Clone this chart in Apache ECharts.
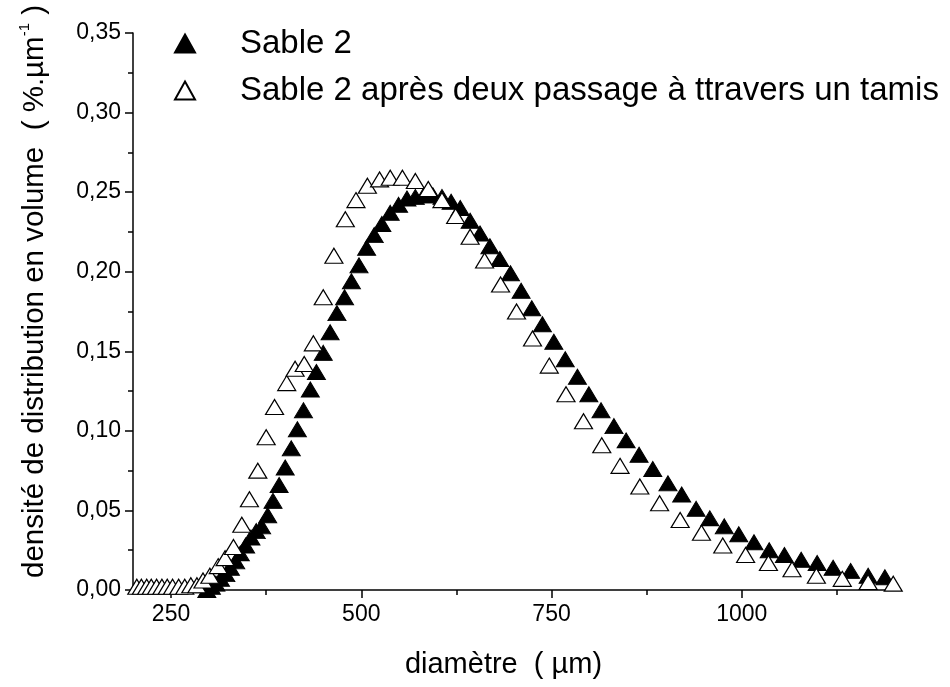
<!DOCTYPE html>
<html>
<head>
<meta charset="utf-8">
<script src="https://cdn.jsdelivr.net/npm/echarts@6/dist/echarts.min.js"></script>
<style>
  html, body { margin: 0; padding: 0; background: #fff; }
  #chart { width: 950px; height: 687px; }
</style>
</head>
<body>
<div id="chart"></div>
<script>
// Sable 2 (triangles pleins)
const sableX = [297, 303, 309, 315, 322, 328, 335, 341, 348, 355, 362, 369, 377, 384, 392, 400, 408, 416, 424, 433,
  441, 450, 459, 468, 478, 487, 497, 507, 517, 527, 538, 549, 560, 571, 582, 594, 606, 618, 630, 643,
  656, 669, 682, 696, 710, 724, 738, 753, 768, 784, 799, 815, 832, 848, 865, 883, 903, 921, 940, 958,
  977, 996, 1016, 1036, 1056, 1078, 1099, 1120, 1143, 1166, 1188]
const sableY = [0.000, 0.002, 0.004, 0.007, 0.010, 0.014, 0.018, 0.023, 0.028, 0.033, 0.037, 0.040, 0.047, 0.056, 0.066, 0.077, 0.089, 0.101, 0.113, 0.126,
  0.137, 0.149, 0.162, 0.174, 0.184, 0.194, 0.204, 0.215, 0.223, 0.230, 0.237, 0.242, 0.246, 0.247, 0.248, 0.248, 0.247, 0.244, 0.240, 0.232,
  0.224, 0.216, 0.208, 0.199, 0.188, 0.177, 0.167, 0.156, 0.145, 0.134, 0.123, 0.113, 0.103, 0.094, 0.085, 0.076, 0.067, 0.060, 0.051, 0.045,
  0.040, 0.035, 0.030, 0.025, 0.022, 0.019, 0.017, 0.014, 0.012, 0.009, 0.008]

// Sable 2 après tamisage (triangles vides)
const tamisX = [205, 211, 218, 224, 231, 238, 245, 252, 260, 268, 276, 284, 292, 301, 312, 321, 332, 343, 353, 364,
  375, 386, 402, 413, 425, 437, 450, 464, 479, 493, 508, 524, 538, 554, 571, 588, 606, 624, 643, 662,
  683, 704, 725, 747, 769, 792, 816, 840, 866, 892, 919, 947, 975, 1005, 1035, 1066, 1098, 1132, 1166, 1199]
const tamisY = [0.002, 0.002, 0.002, 0.002, 0.002, 0.002, 0.002, 0.002, 0.002, 0.002, 0.003, 0.003, 0.006, 0.009, 0.015, 0.020, 0.027, 0.041, 0.057, 0.075,
  0.096, 0.115, 0.130, 0.139, 0.142, 0.155, 0.184, 0.210, 0.233, 0.245, 0.254, 0.258, 0.259, 0.259, 0.257, 0.252, 0.245, 0.235, 0.222, 0.207,
  0.192, 0.175, 0.158, 0.141, 0.123, 0.106, 0.091, 0.078, 0.065, 0.0545, 0.044, 0.036, 0.028, 0.022, 0.017, 0.013, 0.009, 0.007, 0.005, 0.004]

const xMajor = [250, 500, 750, 1000]
const xMinor = [375, 625, 875, 1125]
const seriesNames = ['Sable 2', 'Sable 2 après deux passage à ttravers un tamis']

const font = 'Liberation Sans, Arial, sans-serif'
const zip = (xs, ys) => xs.map((x, i) => [x, ys[i]])

const chart = echarts.init(document.getElementById('chart'), null, { renderer: 'canvas' })

const axisCommon = {
  axisLine: { show: true, onZero: false, lineStyle: { color: '#000', width: 1.5 } },
  splitLine: { show: false }
}

chart.setOption({
  animation: false,
  backgroundColor: '#fff',
  grid: { left: 133, right: 56, top: 33, bottom: 97 },
  legend: {
    orient: 'vertical',
    left: 169,
    top: 22,
    itemWidth: 20,
    itemHeight: 18,
    itemGap: 14,
    data: seriesNames,
    textStyle: { fontFamily: font, fontSize: 33, color: '#000', padding: [0, 0, 0, 40] }
  },
  xAxis: [{
    type: 'value',
    min: 200,
    max: 1200,
    ...axisCommon,
    name: 'diamètre  ( µm)',
    nameLocation: 'middle',
    nameGap: 60,
    nameTextStyle: { fontFamily: font, fontSize: 29, color: '#000', padding: [0, 20, 0, 0] },
    axisTick: { show: true, inside: false, length: 8, customValues: xMajor, lineStyle: { color: '#000', width: 1.5 } },
    axisLabel: {
      customValues: xMajor, fontFamily: font, fontSize: 23, color: '#000', margin: 13,
      formatter: v => String(v)
    }
  }, {
    // petites graduations
    type: 'value',
    min: 200,
    max: 1200,
    position: 'bottom',
    axisLine: { show: false },
    splitLine: { show: false },
    axisTick: { show: true, length: 5, customValues: xMinor, lineStyle: { color: '#000', width: 1.5 } },
    axisLabel: { show: false }
  }],
  yAxis: {
    type: 'value',
    min: 0,
    max: 0.35,
    interval: 0.05,
    ...axisCommon,
    name: 'densité de distribution en volume  ( %.µm{sup|-1} )',
    nameLocation: 'middle',
    nameRotate: 90,
    nameGap: 80,
    nameTextStyle: {
      fontFamily: font, fontSize: 29.5, color: '#000', padding: [0, 0, 0, 40],
      rich: { sup: { fontFamily: font, fontSize: 15, color: '#000', verticalAlign: 'top', lineHeight: 36 } }
    },
    axisTick: { show: true, inside: false, length: 8, lineStyle: { color: '#000', width: 1.5 } },
    minorTick: { show: true, splitNumber: 2, length: 5, lineStyle: { color: '#000', width: 1.5 } },
    axisLabel: {
      fontFamily: font, fontSize: 23, color: '#000', margin: 12,
      formatter: v => v.toFixed(2).replace('.', ',')
    }
  },
  series: [{
    name: seriesNames[0],
    type: 'scatter',
    symbol: 'triangle',
    symbolSize: [18, 15],
    itemStyle: { color: '#000', borderColor: '#000', borderWidth: 1, opacity: 1 },
    data: zip(sableX, sableY)
  }, {
    name: seriesNames[1],
    type: 'scatter',
    symbol: 'triangle',
    symbolSize: [18, 15],
    itemStyle: { color: '#fff', borderColor: '#000', borderWidth: 1.2, opacity: 1 },
    data: zip(tamisX, tamisY)
  }]
})
</script>
</body>
</html>
